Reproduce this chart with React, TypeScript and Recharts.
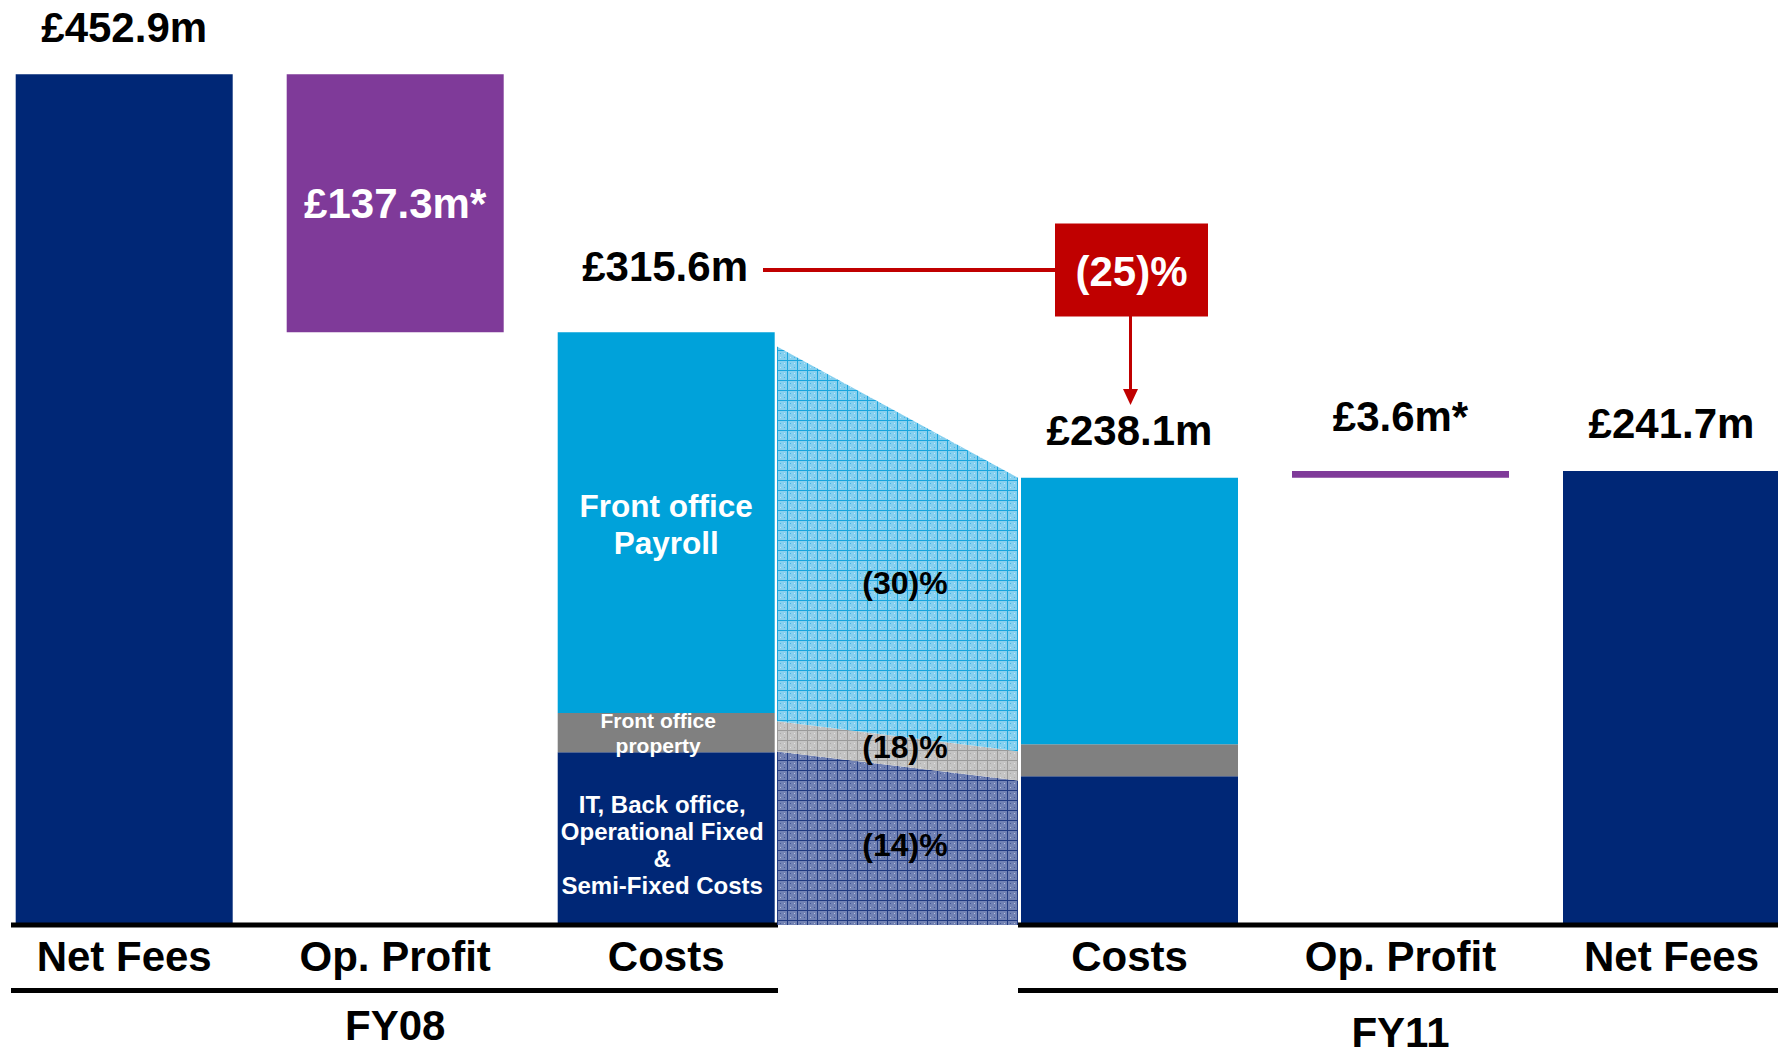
import React from 'react';
import { BarChart, Bar, AreaChart, Area, XAxis, YAxis, LabelList } from 'recharts';

const periods = ['FY08', 'FY11'];
const categoriesFY08 = ['Net Fees', 'Op. Profit', 'Costs'];
const categoriesFY11 = ['Costs', 'Op. Profit', 'Net Fees'];

const netFees = [452.9, 241.7];
const opProfit = [137.3, 3.6];
const itBackOffice = [92.0, 79.2];
const frontOfficeProperty = [20.8, 17.0];
const frontOfficePayroll = [202.8, 141.9];

// hatched bridge between the two cost bars (left edge, right edge)
const bridgeIT = [92.4, 76.9];
const bridgeProperty = [16.1, 15.6];
const bridgePayroll = [199.5, 145.6];

const NAVY = '#002776';
const PURPLE = '#7F3A99';
const CYAN = '#00A2DA';
const GREY = '#808080';
const RED = '#C00000';
const FONT = '"Liberation Sans", Arial, Helvetica, sans-serif';

const Y_MAX = 492.4;
const H = 1048;

const fmt = (v: number) => `£${v.toFixed(1)}m`;
const pct = (a: number, b: number) => `(${Math.abs(Math.round((b / a - 1) * 100))})%`;
const costTotal = (p: number) => itBackOffice[p] + frontOfficeProperty[p] + frontOfficePayroll[p];

function buildRows(p: number, order: string[]) {
  return order.map((name) => {
    if (name === 'Net Fees') return { name, base: 0, navy: netFees[p], grey: 0, cyan: 0, purple: 0 };
    if (name === 'Op. Profit')
      return { name, base: netFees[p] - opProfit[p], navy: 0, grey: 0, cyan: 0, purple: opProfit[p] };
    return { name, base: 0, navy: itBackOffice[p], grey: frontOfficeProperty[p], cyan: frontOfficePayroll[p], purple: 0 };
  });
}

const rowsFY08 = buildRows(0, categoriesFY08);
const rowsFY11 = buildRows(1, categoriesFY11);

const bridgeRows = ['from', 'to'].map((name, i) => ({
  name,
  it: bridgeIT[i],
  property: bridgeProperty[i],
  payroll: bridgePayroll[i],
}));

// value shown above (or inside) the column
const topLabel = (p: number, name: string) => {
  if (name === 'Net Fees') return fmt(netFees[p]);
  if (name === 'Op. Profit') return fmt(opProfit[p]) + '*';
  if (p === 1) return fmt(costTotal(p));
  return null;
};

const TopText = ({ x, y, width, height, text, name }: any) => {
  const cx = Number(x) + Number(width) / 2;
  if (name === 'Op. Profit' && Number(height) > 60) {
    return (
      <text x={cx} y={Number(y) + Number(height) / 2} textAnchor="middle" dominantBaseline="central"
        fill="#fff" fontFamily={FONT} fontWeight="bold" fontSize={42}>
        {text}
      </text>
    );
  }
  const dy = name === 'Op. Profit' ? -54 : -47;
  return (
    <text x={cx} y={Number(y) + dy} textAnchor="middle" dominantBaseline="central"
      fill="#000" fontFamily={FONT} fontWeight="bold" fontSize={42}>
      {text}
    </text>
  );
};

// segment captions inside the FY08 cost column
const SegmentText = ({ x, y, width, height, lines, size, spacing, dx, shift }: any) => {
  const cx = Number(x) + Number(width) / 2 + dx;
  const cy = Number(y) + Number(height) / 2 + shift;
  const start = cy - ((lines.length - 1) * spacing) / 2;
  return (
    <g>
      {lines.map((l: string, i: number) => (
        <text key={i} x={cx} y={start + i * spacing} textAnchor="middle" dominantBaseline="central"
          fill="#fff" fontFamily={FONT} fontWeight="bold" fontSize={size}>
          {l}
        </text>
      ))}
    </g>
  );
};

// LabelList uses dataKey="name", so `value` is the category of the column
const labelFor = (p: number, series: string) => (props: any) => {
  const name = props.value;
  const isTop =
    (series === 'navy' && name === 'Net Fees') ||
    (series === 'cyan' && name === 'Costs') ||
    (series === 'purple' && name === 'Op. Profit');
  const out: React.ReactNode[] = [];
  if (p === 0 && name === 'Costs') {
    if (series === 'navy')
      out.push(<SegmentText key="s" {...props} lines={['IT, Back office,', 'Operational Fixed', '&', 'Semi-Fixed Costs']} size={24} spacing={27} dx={-4} shift={6} />);
    if (series === 'grey')
      out.push(<SegmentText key="s" {...props} lines={['Front office', 'property']} size={21} spacing={25} dx={-8} shift={0} />);
    if (series === 'cyan')
      out.push(<SegmentText key="s" {...props} lines={['Front office', 'Payroll']} size={31.5} spacing={37} dx={0} shift={2} />);
  }
  if (isTop) {
    const text = topLabel(p, name);
    if (text) out.push(<TopText key="t" {...props} text={text} name={name} />);
  }
  return out.length ? <g>{out}</g> : null;
};

const CategoryTick = (props: any) => {
  const { x, y, payload } = props;
  return (
    <text x={x} y={Number(y) + 31} textAnchor="middle" dominantBaseline="central"
      fill="#000" fontFamily={FONT} fontWeight="bold" fontSize={42}>
      {payload.value}
    </text>
  );
};

const periodTick = (p: number, dy: number) => (props: any) => {
  const { x, y, index } = props;
  if (index !== 1) return <g />;
  return (
    <text x={x} y={Number(y) + dy} textAnchor="middle" dominantBaseline="central"
      fill="#000" fontFamily={FONT} fontWeight="bold" fontSize={42}>
      {periods[p]}
    </text>
  );
};

const PeriodChart = ({ p, rows, width, marginLeft, padding, dy }: any) => (
  <BarChart width={width} height={H} data={rows} margin={{ top: 0, right: 0, bottom: 0, left: marginLeft }} barSize={217}>
    <XAxis dataKey="name" height={65.5} interval={0} padding={padding} tickSize={0} tickMargin={0}
      axisLine={{ stroke: '#000', strokeWidth: 5 }} tickLine={false} tick={<CategoryTick />} />
    <XAxis xAxisId="fy" dataKey="name" height={57.5} interval={0} padding={padding} tickSize={0} tickMargin={0}
      axisLine={{ stroke: '#000', strokeWidth: 5 }} tickLine={false} tick={periodTick(p, dy)} />
    <YAxis hide domain={[0, Y_MAX]} />
    <Bar dataKey="base" stackId="s" fill="transparent" isAnimationActive={false} />
    <Bar dataKey="navy" stackId="s" fill={NAVY} isAnimationActive={false}>
      <LabelList dataKey="name" content={labelFor(p, 'navy')} />
    </Bar>
    <Bar dataKey="grey" stackId="s" fill={GREY} isAnimationActive={false}>
      <LabelList dataKey="name" content={labelFor(p, 'grey')} />
    </Bar>
    <Bar dataKey="cyan" stackId="s" fill={CYAN} isAnimationActive={false}>
      <LabelList dataKey="name" content={labelFor(p, 'cyan')} />
    </Bar>
    <Bar dataKey="purple" stackId="s" fill={PURPLE} isAnimationActive={false}>
      <LabelList dataKey="name" content={labelFor(p, 'purple')} />
    </Bar>
  </BarChart>
);

const Hatch = ({ id, base, line }: { id: string; base: string; line: string }) => (
  <pattern id={id} width={10} height={10} patternUnits="userSpaceOnUse">
    <rect width={10} height={10} fill={base} />
    <path d="M0 0.5H10M0.5 0V10" stroke={line} strokeWidth={1} />
    <rect x={3} y={3} width={1} height={1} fill={line} opacity={0.6} />
    <rect x={7} y={7} width={1} height={1} fill={line} opacity={0.6} />
    <rect x={7} y={3} width={1} height={1} fill="#fff" opacity={0.5} />
    <rect x={3} y={7} width={1} height={1} fill="#fff" opacity={0.5} />
  </pattern>
);

const App: React.FC = () => {
  const total08 = costTotal(0);
  const total11 = costTotal(1);
  return (
    <div style={{ position: 'absolute', left: 0, top: 0, width: 1778, height: H, overflow: 'hidden', background: '#fff' }}>
      <div style={{ position: 'absolute', left: 0, top: 0 }}>
        <PeriodChart p={0} rows={rowsFY08} width={778} marginLeft={11}
          padding={{ left: -22.3, right: -23.7 }} dy={34.5} />
      </div>
      <div style={{ position: 'absolute', left: 777, top: 0 }}>
        <AreaChart width={241} height={H} data={bridgeRows} margin={{ top: 0, right: 0, bottom: 123, left: 0 }}>
          <defs>
            <Hatch id="hatchNavy" base="#7282B4" line="#213A80" />
            <Hatch id="hatchGrey" base="#C4C4C4" line="#9A9A9A" />
            <Hatch id="hatchCyan" base="#86D0EF" line="#19A5DD" />
          </defs>
          <XAxis dataKey="name" hide />
          <YAxis hide domain={[0, Y_MAX]} />
          <Area type="linear" dataKey="it" stackId="b" stroke="none" fill="url(#hatchNavy)" fillOpacity={1} dot={false} activeDot={false} isAnimationActive={false} />
          <Area type="linear" dataKey="property" stackId="b" stroke="none" fill="url(#hatchGrey)" fillOpacity={1} dot={false} activeDot={false} isAnimationActive={false} />
          <Area type="linear" dataKey="payroll" stackId="b" stroke="none" fill="url(#hatchCyan)" fillOpacity={1} dot={false} activeDot={false} isAnimationActive={false} />
        </AreaChart>
      </div>
      <div style={{ position: 'absolute', left: 1018, top: 0 }}>
        <PeriodChart p={1} rows={rowsFY11} width={760} marginLeft={0}
          padding={{ left: -24, right: -29 }} dy={41.5} />
      </div>
      <svg width={1778} height={H} style={{ position: 'absolute', left: 0, top: 0, pointerEvents: 'none' }}>
        <text x={748} y={266.5} textAnchor="end" dominantBaseline="central" fill="#000"
          fontFamily={FONT} fontWeight="bold" fontSize={42}>
          {fmt(total08)}
        </text>
        <line x1={763} y1={270} x2={1056} y2={270} stroke={RED} strokeWidth={4} />
        <rect x={1055} y={223.5} width={153} height={93} fill={RED} />
        <text x={1131.5} y={271} textAnchor="middle" dominantBaseline="central" fill="#fff"
          fontFamily={FONT} fontWeight="bold" fontSize={42}>
          {pct(total08, total11)}
        </text>
        <line x1={1130.5} y1={316} x2={1130.5} y2={392} stroke={RED} strokeWidth={3} />
        <path d="M1123 389 L1138 389 L1130.5 405 Z" fill={RED} />
        <text x={905} y={583} textAnchor="middle" dominantBaseline="central" fill="#000"
          fontFamily={FONT} fontWeight="bold" fontSize={32}>
          {pct(frontOfficePayroll[0], frontOfficePayroll[1])}
        </text>
        <text x={905} y={747} textAnchor="middle" dominantBaseline="central" fill="#000"
          fontFamily={FONT} fontWeight="bold" fontSize={32}>
          {pct(frontOfficeProperty[0], frontOfficeProperty[1])}
        </text>
        <text x={905} y={845} textAnchor="middle" dominantBaseline="central" fill="#000"
          fontFamily={FONT} fontWeight="bold" fontSize={32}>
          {pct(itBackOffice[0], itBackOffice[1])}
        </text>
      </svg>
    </div>
  );
};

export default App;
